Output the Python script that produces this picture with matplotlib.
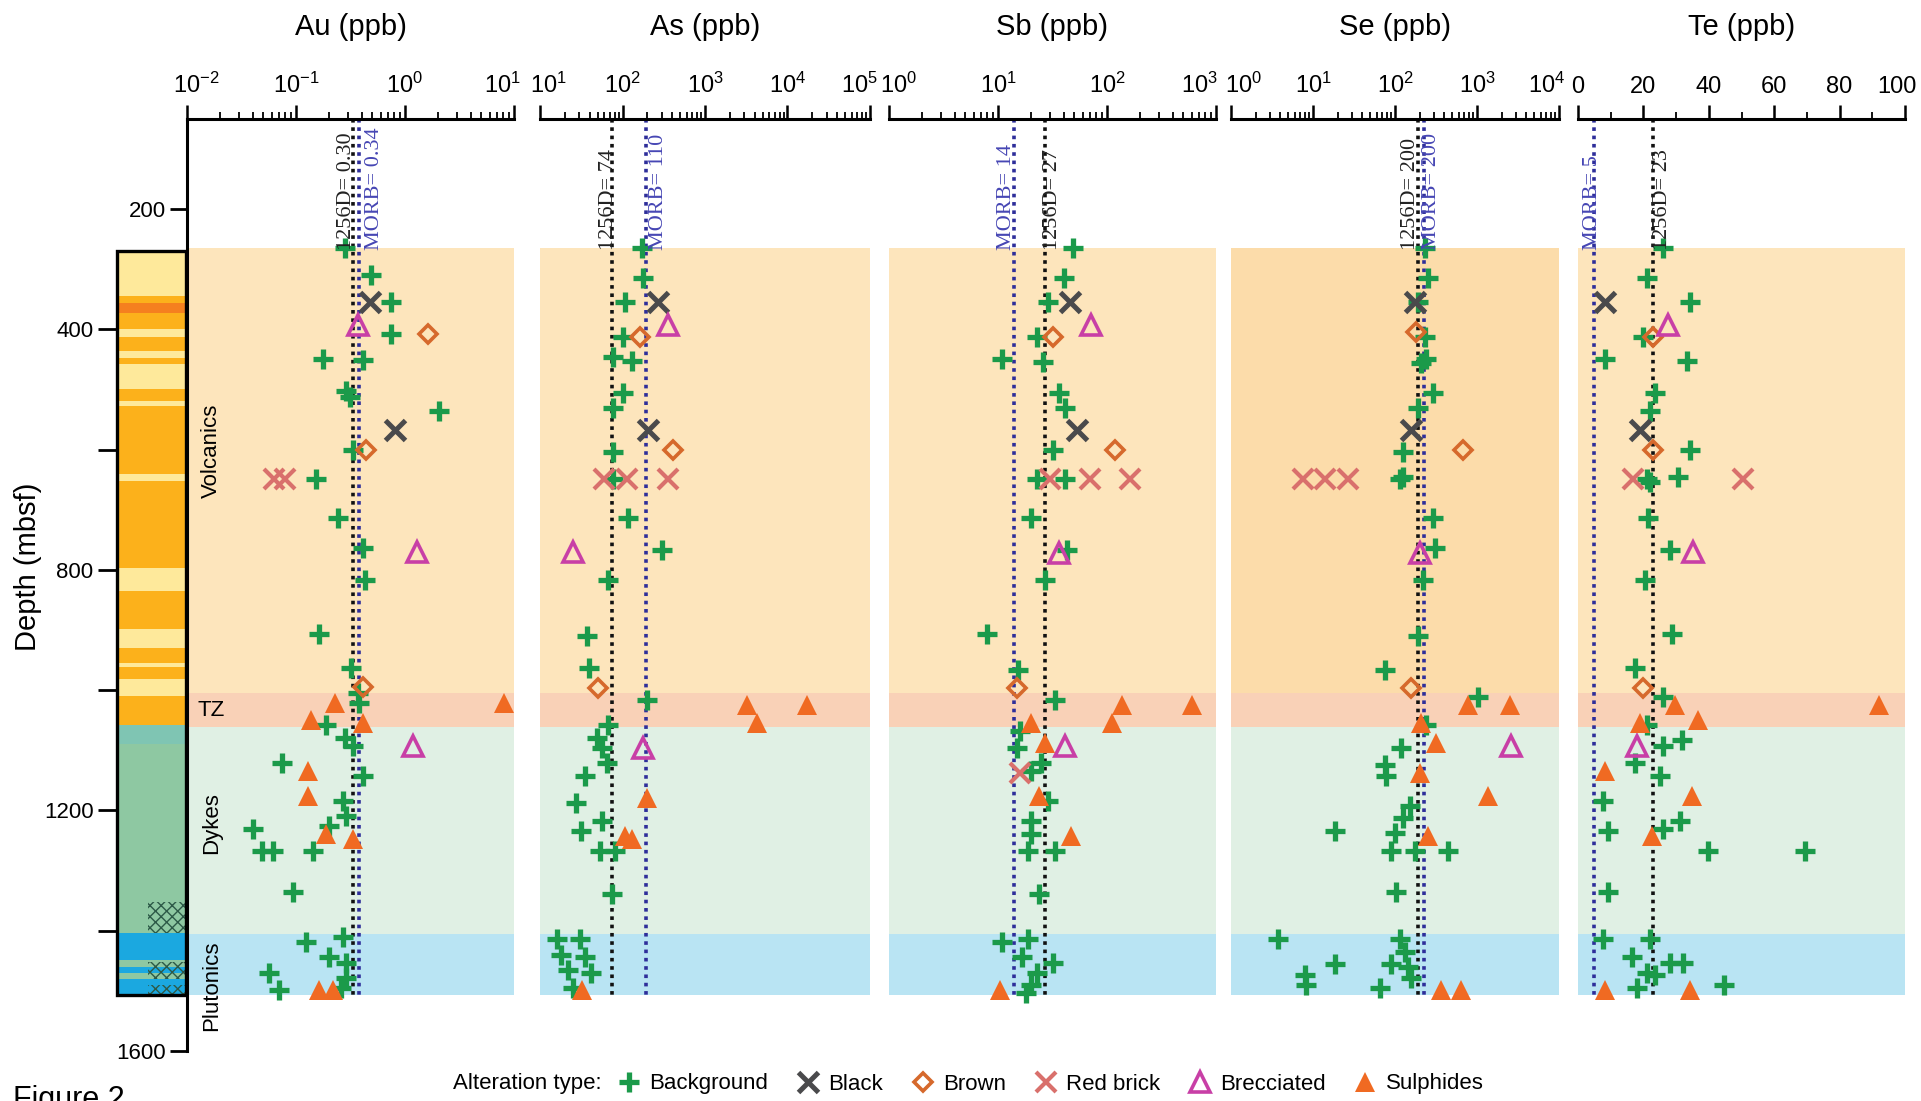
import matplotlib
matplotlib.use("Agg")
import matplotlib.pyplot as plt
import matplotlib.ticker as mticker
import matplotlib.transforms as mtransforms
from matplotlib.lines import Line2D
from matplotlib.patches import Rectangle

plt.rcParams["font.family"] = ["Liberation Sans", "DejaVu Sans"]
plt.rcParams["mathtext.default"] = "regular"

# ---- data (depth in mbsf, concentration in ppb, alteration type) ----
ELEMENTS = ["Au", "As", "Sb", "Se", "Te"]

AU_DEPTH = [265, 310, 355, 355, 392, 408, 408, 449, 451, 502, 512, 535, 567, 600, 600,
            649, 649, 649, 714, 770, 763, 816, 906, 963, 995, 1005, 1021, 1021, 1021,
            1050, 1058, 1054, 1079, 1092, 1092, 1121, 1134, 1142, 1176, 1184, 1209,
            1230, 1239, 1226, 1247, 1268, 1268, 1268, 1335, 1419, 1411, 1444, 1453,
            1470, 1499, 1478, 1495, 1499, 1499]
AU_PPB = [0.28, 0.49, 0.48, 0.75, 0.37, 0.75, 1.64, 0.176, 0.41, 0.29, 0.31, 2.03, 0.81,
          0.33, 0.44, 0.063, 0.080, 0.153, 0.243, 1.28, 0.41, 0.43, 0.164, 0.32, 0.41,
          0.37, 0.23, 0.38, 8.1, 0.137, 0.19, 0.41, 0.28, 0.33, 1.19, 0.075, 0.128,
          0.41, 0.128, 0.27, 0.29, 0.04, 0.19, 0.20, 0.33, 0.049, 0.061, 0.143, 0.093,
          0.124, 0.27, 0.20, 0.29, 0.057, 0.070, 0.29, 0.26, 0.164, 0.22]
AU_TYPE = ["bg", "bg", "bk", "bg", "bc", "bg", "br", "bg", "bg", "bg", "bg", "bg", "bk",
           "bg", "br", "rb", "rb", "bg", "bg", "bc", "bg", "bg", "bg", "bg", "br", "bg",
           "su", "bg", "su", "su", "bg", "su", "bg", "bg", "bc", "bg", "su", "bg", "su",
           "bg", "bg", "bg", "su", "bg", "su", "bg", "bg", "bg", "bg", "bg", "bg", "bg",
           "bg", "bg", "bg", "bg", "bg", "su", "su"]

AS_DEPTH = [265, 314, 355, 355, 392, 412, 412, 445, 453, 506, 531, 567, 600, 604, 649,
            649, 649, 649, 714, 770, 767, 816, 910, 963, 996, 1017, 1025, 1025, 1054,
            1058, 1079, 1096, 1096, 1121, 1142, 1180, 1188, 1218, 1234, 1243, 1247,
            1268, 1268, 1339, 1414, 1414, 1440, 1444, 1465, 1470, 1495, 1499]
AS_PPB = [171, 178, 107, 272, 359, 102, 163, 77, 129, 102, 77, 206, 413, 77, 59, 77, 112,
          359, 118, 25, 299, 67, 37, 39, 51, 196, 3200, 17000, 4230, 67, 49, 56, 179, 64,
          35, 196, 27, 56, 31, 107, 129, 53, 81, 74, 15.9, 30.5, 18, 35, 22, 42, 25, 32]
AS_TYPE = ["bg", "bg", "bg", "bk", "bc", "bg", "br", "bg", "bg", "bg", "bg", "bk", "br",
           "bg", "rb", "bg", "rb", "rb", "bg", "bc", "bg", "bg", "bg", "bg", "br", "bg",
           "su", "su", "su", "bg", "bg", "bg", "bc", "bg", "bg", "su", "bg", "bg", "bg",
           "su", "su", "bg", "bg", "bg", "bg", "bg", "bg", "bg", "bg", "bg", "bg", "su"]

SB_DEPTH = [265, 314, 355, 355, 392, 412, 412, 449, 454, 506, 531, 567, 600, 600, 649,
            649, 649, 649, 649, 714, 771, 767, 816, 906, 967, 996, 1017, 1025, 1025, 1054,
            1054, 1067, 1088, 1092, 1096, 1138, 1134, 1121, 1176, 1184, 1218, 1239, 1243,
            1268, 1268, 1339, 1419, 1414, 1444, 1453, 1470, 1491, 1499, 1503]
SB_PPB = [49, 40, 29, 46, 72, 23, 32, 10.8, 26, 36, 41, 53, 118, 32, 22.6, 30, 41, 70, 163,
          20, 36, 43, 27, 7.9, 15.4, 14.8, 33, 136, 598, 110, 20, 15.9, 27, 41, 14.8, 15.9,
          20, 25, 24, 29, 20, 20, 47, 19, 33, 24, 10.8, 19, 16.5, 32, 23, 20, 10.4, 18]
SB_TYPE = ["bg", "bg", "bg", "bk", "bc", "bg", "br", "bg", "bg", "bg", "bg", "bk", "br",
           "bg", "bg", "rb", "bg", "rb", "rb", "bg", "bc", "bg", "bg", "bg", "bg", "br",
           "bg", "su", "su", "su", "su", "bg", "su", "bc", "bg", "rb", "bg", "bg", "su",
           "bg", "bg", "bg", "su", "bg", "bg", "bg", "bg", "bg", "bg", "bg", "bg", "bg",
           "su", "bg"]

SE_DEPTH = [265, 314, 355, 355, 404, 412, 449, 455, 506, 531, 567, 600, 604, 649, 649,
            649, 649, 645, 714, 771, 763, 816, 910, 967, 996, 1025, 1012, 1025, 1054, 1058,
            1088, 1092, 1096, 1125, 1142, 1138, 1176, 1193, 1213, 1234, 1238, 1243, 1268,
            1268, 1268, 1335, 1414, 1414, 1435, 1456, 1456, 1460, 1474, 1491, 1495, 1478,
            1499, 1499]
SE_PPB = [230, 253, 174, 190, 182, 230, 241, 210, 290, 191, 158, 675, 125, 7.5, 13.9, 26.7,
          114, 125, 290, 200, 305, 219, 191, 75, 158, 776, 1028, 2500, 210, 241, 319, 2620,
          119, 75, 78, 200, 1360, 151, 125, 18.4, 99, 253, 90, 174, 443, 104, 3.7, 114, 131,
          18.4, 90, 144, 7.9, 8.3, 65, 158, 367, 644]
SE_TYPE = ["bg", "bg", "bk", "bg", "br", "bg", "bg", "bg", "bg", "bg", "bk", "br", "bg",
           "rb", "rb", "rb", "bg", "bg", "bg", "bc", "bg", "bg", "bg", "bg", "br", "su",
           "bg", "su", "su", "bg", "su", "bc", "bg", "bg", "bg", "su", "su", "bg", "bg",
           "bg", "bg", "su", "bg", "bg", "bg", "bg", "bg", "bg", "bg", "bg", "bg", "bg",
           "bg", "bg", "bg", "bg", "su", "su"]

TE_DEPTH = [265, 314, 355, 355, 392, 412, 412, 449, 453, 506, 535, 567, 600, 600, 649,
            649, 653, 645, 649, 714, 767, 770, 816, 906, 963, 996, 1012, 1025, 1025, 1050,
            1054, 1058, 1092, 1092, 1083, 1121, 1134, 1142, 1184, 1176, 1218, 1234, 1230,
            1243, 1268, 1268, 1335, 1414, 1414, 1444, 1453, 1453, 1470, 1474, 1495, 1491,
            1499, 1499]
TE_PPB = [26.1, 21.0, 8.3, 34.3, 27.6, 20.0, 23.0, 8.3, 33.2, 23.5, 22.0, 19.0, 23.0, 34.3,
          16.9, 21.0, 22.0, 30.7, 50.6, 21.5, 28.1, 35.3, 20.5, 28.6, 17.4, 20.0, 26.1,
          29.7, 91.9, 36.8, 19.0, 21.0, 17.9, 26.1, 31.7, 17.4, 8.3, 25.1, 7.7, 34.8,
          31.2, 9.3, 26.1, 22.5, 39.8, 69.4, 9.3, 7.7, 22.0, 16.4, 28.1, 32.2, 21.0, 23.5,
          17.9, 44.5, 8.3, 34.3]
TE_TYPE = ["bg", "bg", "bk", "bg", "bc", "bg", "br", "bg", "bg", "bg", "bg", "bk", "br",
           "bg", "rb", "bg", "bg", "bg", "rb", "bg", "bg", "bc", "bg", "bg", "bg", "br",
           "bg", "su", "su", "su", "su", "bg", "bc", "bg", "bg", "bg", "su", "bg", "bg",
           "su", "bg", "bg", "bg", "su", "bg", "bg", "bg", "bg", "bg", "bg", "bg", "bg",
           "bg", "bg", "bg", "bg", "su", "su"]

# reference lines: label text and where the line sits in the figure
REF_1256D_TEXT = ["1256D= 0.30", "1256D= 74", "1256D= 27", "1256D= 200", "1256D= 23"]
REF_1256D_POS = [0.33, 74, 27, 190, 23]
REF_MORB_TEXT = ["MORB= 0.34", "MORB= 110", "MORB= 14", "MORB= 200", "MORB= 5"]
REF_MORB_POS = [0.38, 195, 14, 225, 5]

ZONE_NAMES = ["Volcanics", "TZ", "Dykes", "Plutonics"]
ZONE_TOP = [265, 1004, 1061, 1406]
ZONE_BOTTOM = [1004, 1061, 1406, 1507]
ZONE_LABEL_DEPTH = [602, 1034, 1221, 1492]

# lithology column (top, bottom, colour key)
LITH_TOP = [270, 345, 356, 373, 399, 413, 436, 447, 457, 499, 519, 527, 640, 652, 797,
            835, 898, 929, 954, 962, 981, 1009, 1058, 1090, 1404, 1449, 1460, 1470, 1480]
LITH_BOTTOM = LITH_TOP[1:] + [1507]
LITH_KIND = ["y", "o", "r", "o", "y", "o", "y", "o", "y", "o", "y", "o", "y", "o", "y",
             "o", "y", "o", "y", "o", "y", "o", "t", "g", "b", "g", "b", "g", "b"]
HATCH_TOP = [1352, 1452, 1490]
HATCH_BOTTOM = [1404, 1480, 1507]

LEGEND_LABELS = {"bg": "Background", "bk": "Black", "br": "Brown",
                 "rb": "Red brick", "bc": "Brecciated", "su": "Sulphides"}

# ---- styles ----
STYLE = {
    "bg": dict(marker="+", color="#1b9a4a", ms=15, mew=3.8, mfc="#1b9a4a"),
    "bk": dict(marker="x", color="#4a4a4c", ms=15, mew=3.6, mfc="#4a4a4c"),
    "br": dict(marker="D", color="#d6692c", ms=9, mew=2.6, mfc="none"),
    "rb": dict(marker="x", color="#d9706c", ms=14, mew=3.0, mfc="#d9706c"),
    "bc": dict(marker="^", color="#c83fa6", ms=14, mew=2.6, mfc="none"),
    "su": dict(marker="^", color="#f06a22", ms=15, mew=0, mfc="#f06a22"),
}
ZONE_COLORS = ["#fde5bc", "#f9d1b7", "#e0f0e4", "#b9e4f3"]
LITH_COLORS = {"y": "#fee99b", "o": "#fcb11b", "r": "#f5801f", "t": "#7fc5b3",
               "g": "#8ec8a2", "b": "#1ba8e0"}

W, H = 1921, 1101
TOP_PX, BOT_PX = 119, 1051
PANEL_X = [(187, 514), (540, 870), (889, 1216), (1231, 1559), (1578, 1905)]
XLIMS = [(1e-2, 1e1), (1e1, 1e5), (1e0, 1e3), (1e0, 1e4), (0, 100)]
TEXT_OFFSETS = [(-6, 15), (-3, 12), (7, -7), (-7, 8), (9, -2)]
# nudge of the end tick labels (px) so neighbouring panels do not collide
END_LABEL_SHIFT = [(9, -12), (8, -11), (10, -17), (13, -12), (0, -8)]


def box(x0, x1):
    return [x0 / W, 1 - BOT_PX / H, (x1 - x0) / W, (BOT_PX - TOP_PX) / H]


data = [(AU_DEPTH, AU_PPB, AU_TYPE), (AS_DEPTH, AS_PPB, AS_TYPE),
        (SB_DEPTH, SB_PPB, SB_TYPE), (SE_DEPTH, SE_PPB, SE_TYPE),
        (TE_DEPTH, TE_PPB, TE_TYPE)]

fig = plt.figure(figsize=(W / 100, H / 100), dpi=100)

# lithology column first, so the panels sit above it
cax = fig.add_axes(box(117, 186))
cax.patch.set_visible(False)
cax.set_ylim(1600, 50)
cax.set_xlim(0, 1)
for t, b, k in zip(LITH_TOP, LITH_BOTTOM, LITH_KIND):
    cax.axhspan(t, b, color=LITH_COLORS[k], lw=0, zorder=0)
for t, b in zip(HATCH_TOP, HATCH_BOTTOM):
    cax.add_patch(Rectangle((0.45, t), 0.55, b - t, fill=False, hatch="xxx",
                            edgecolor="#2d5a48", lw=0, zorder=1))
cax.add_patch(Rectangle((0, LITH_TOP[0]), 1, LITH_BOTTOM[-1] - LITH_TOP[0], fill=False,
                        edgecolor="black", lw=2.4, zorder=2, clip_on=False))
for s in cax.spines.values():
    s.set_visible(False)
cax.set_xticks([])
cax.set_yticks([400, 600, 800, 1000, 1200, 1400])
cax.set_yticklabels(["400", "", "800", "", "1200", ""])
cax.tick_params(axis="y", length=14, width=2, labelsize=16, pad=3)

axes = []
for i, name in enumerate(ELEMENTS):
    ax = fig.add_axes(box(*PANEL_X[i]))
    ax.patch.set_visible(False)
    axes.append(ax)
    ax.set_ylim(1600, 50)
    if i < 4:
        ax.set_xscale("log")
    ax.set_xlim(*XLIMS[i])

    for z in range(4):
        col = ZONE_COLORS[z]
        if name == "Se" and z == 0:
            col = "#fcdcaa"
        ax.axhspan(ZONE_TOP[z], ZONE_BOTTOM[z], color=col, lw=0, zorder=0)

    ax.vlines(REF_1256D_POS[i], 50, ZONE_BOTTOM[-1], colors="#111111", lw=2.6,
              linestyles=(0, (1, 1.3)), zorder=2)
    ax.vlines(REF_MORB_POS[i], 50, ZONE_BOTTOM[-1], colors="#2e2e9a", lw=2.6,
              linestyles=(0, (1, 1.3)), zorder=2)
    off_d, off_m = TEXT_OFFSETS[i]
    tr_d = mtransforms.offset_copy(ax.transData, fig=fig, x=off_d * 0.72, y=0, units="points")
    tr_m = mtransforms.offset_copy(ax.transData, fig=fig, x=off_m * 0.72, y=0, units="points")
    ax.text(REF_1256D_POS[i], 268, REF_1256D_TEXT[i], rotation=90, ha="center", va="bottom",
            fontsize=16, family=["Liberation Serif", "DejaVu Serif"], color="#222222",
            transform=tr_d, zorder=4)
    ax.text(REF_MORB_POS[i], 268, REF_MORB_TEXT[i], rotation=90, ha="center", va="bottom",
            fontsize=16, family=["Liberation Serif", "DejaVu Serif"], color="#4646b4",
            transform=tr_m, zorder=4)

    depth, vals, kinds = data[i]
    for key in ["bg", "bk", "br", "rb", "bc", "su"]:
        xs = [v for v, k in zip(vals, kinds) if k == key]
        ys = [d for d, k in zip(depth, kinds) if k == key]
        st = STYLE[key]
        ax.plot(xs, ys, ls="none", marker=st["marker"], ms=st["ms"], mew=st["mew"],
                mec=st["color"], mfc=st["mfc"], zorder=3, clip_on=False)

    # top axis
    ax.xaxis.tick_top()
    for s in ["bottom", "right", "left"]:
        ax.spines[s].set_visible(False)
    ax.spines["top"].set_linewidth(2.2)
    if i < 4:
        ax.xaxis.set_major_locator(mticker.LogLocator(base=10, numticks=10))
        ax.xaxis.set_minor_locator(mticker.LogLocator(base=10, subs=range(2, 10), numticks=10))
        ax.xaxis.set_minor_formatter(mticker.NullFormatter())
    else:
        ax.xaxis.set_major_locator(mticker.MultipleLocator(20))
        ax.xaxis.set_minor_locator(mticker.MultipleLocator(10))
    ax.tick_params(axis="x", which="major", length=10, width=1.8, labelsize=17, pad=5)
    ax.tick_params(axis="x", which="minor", length=5, width=1.3)

    if i == 0:
        ax.spines["left"].set_visible(True)
        ax.spines["left"].set_linewidth(2.2)
        ax.set_yticks([200, 1600])
        ax.set_yticklabels(["200", "1600"])
        ax.tick_params(axis="y", length=12, width=2, labelsize=16, pad=3)
        tr = mtransforms.blended_transform_factory(ax.transAxes, ax.transData)
        for z, lab in enumerate(ZONE_NAMES):
            ax.text(0.075, ZONE_LABEL_DEPTH[z], lab, transform=tr, fontsize=16,
                    rotation=0 if lab == "TZ" else 90, ha="center", va="center", zorder=4)
    else:
        ax.set_yticks([])

    fig.text((PANEL_X[i][0] + PANEL_X[i][1]) / 2 / W, 1 - 27 / H, name + " (ppb)",
             ha="center", va="center", fontsize=21)

# shift the first / last top tick labels inward a little
for i, ax in enumerate(axes):
    lo, hi = XLIMS[i]
    locs = ax.xaxis.get_majorticklocs()
    ticks = ax.xaxis.get_major_ticks(len(locs))
    for loc, t in zip(locs, ticks):
        dx = 0
        if abs(loc - lo) <= 1e-9 * max(1, abs(lo)):
            dx = END_LABEL_SHIFT[i][0]
        elif abs(loc - hi) <= 1e-9 * max(1, abs(hi)):
            dx = END_LABEL_SHIFT[i][1]
        if dx:
            t.label2.set_transform(t.label2.get_transform()
                                   + mtransforms.ScaledTranslation(dx / 100, 0,
                                                                   fig.dpi_scale_trans))

fig.text(28 / W, 1 - 567 / H, "Depth (mbsf)", rotation=90, ha="center", va="center",
         fontsize=21)

# legend
handles = []
for key in ["bg", "bk", "br", "rb", "bc", "su"]:
    st = STYLE[key]
    handles.append(Line2D([], [], ls="none", marker=st["marker"], ms=st["ms"], mew=st["mew"],
                          mec=st["color"], mfc=st["mfc"], label=LEGEND_LABELS[key]))
fig.legend(handles=handles, loc="center left", bbox_to_anchor=(618 / W, 1 - 1084 / H),
           ncol=6, frameon=False, fontsize=16, handlelength=1.0, handletextpad=0.4,
           columnspacing=1.3, borderaxespad=0, borderpad=0)
fig.text(602 / W, 1 - 1084 / H, "Alteration type:", ha="right", va="center", fontsize=16)
fig.text(13 / W, 1 - 1085 / H, "Figure 2", ha="left", va="top", fontsize=22)

fig.savefig("out.png", dpi=100)
